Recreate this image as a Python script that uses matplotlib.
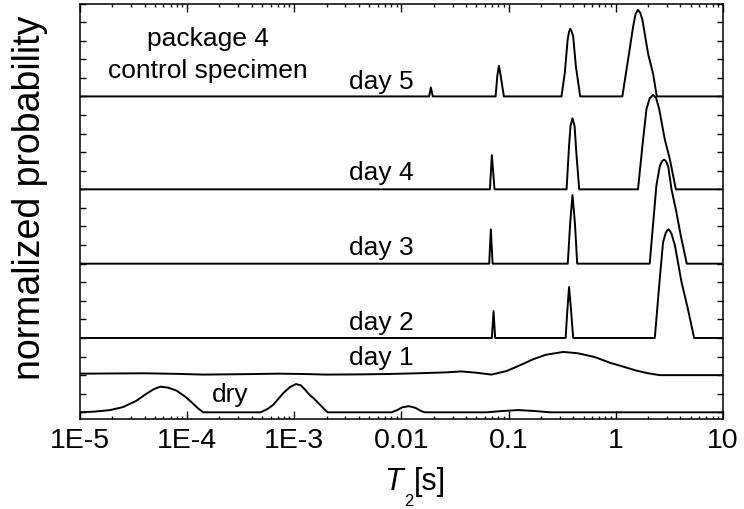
import matplotlib
matplotlib.use('Agg')
import matplotlib.pyplot as plt
from matplotlib.ticker import FixedLocator, LogLocator, NullFormatter

plt.rcParams['font.family'] = ['Liberation Sans', 'DejaVu Sans']

# T2 [s] and normalized probability, one pair of lists per measurement
dry_t2 = [1.0e-5, 1.38e-5, 1.91e-5, 2.51e-5, 3.31e-5, 4.17e-5, 4.90e-5, 5.62e-5,
          6.61e-5, 7.94e-5, 9.55e-5, 1.12e-4, 1.26e-4, 1.41e-4, 4.85e-4, 5.62e-4,
          6.35e-4, 7.08e-4, 7.94e-4, 9.12e-4, 1.035e-3, 1.15e-3, 1.26e-3, 1.38e-3,
          1.51e-3, 1.74e-3, 2.04e-3, 8.09e-3, 9.12e-3, 0.0102, 0.0117, 0.0135,
          0.0151, 0.0165, 0.0622, 0.0871, 0.123, 0.174, 0.242, 10.0]
dry_p = [0.0, 0.04, 0.12, 0.28, 0.6, 1.0, 1.25, 1.38,
         1.33, 1.17, 0.85, 0.5, 0.22, 0.0, 0.0, 0.18,
         0.40, 0.72, 1.05, 1.36, 1.52, 1.45, 1.22, 0.95,
         0.76, 0.4, 0.0, 0.0, 0.12, 0.27, 0.33, 0.24,
         0.08, 0.0, 0.0, 0.07, 0.12, 0.07, 0.0, 0.0]

day1_t2 = [1.0e-5, 2.0e-5, 3.98e-5, 7.94e-5, 1.41e-4, 3.16e-4, 7.08e-4, 1.26e-3,
           2.0e-3, 3.98e-3, 7.24e-3, 0.0141, 0.0263, 0.0363, 0.0501, 0.0692,
           0.0955, 0.126, 0.170, 0.224, 0.324, 0.437, 0.631, 0.879,
           1.20, 1.56, 2.0, 2.57, 10.0]
day1_p = [0.08, 0.09, 0.10, 0.07, 0.03, 0.05, 0.08, 0.06,
          0.03, 0.04, 0.06, 0.10, 0.15, 0.20, 0.13, 0.03,
          0.22, 0.52, 0.86, 1.10, 1.25, 1.18, 0.98, 0.67,
          0.44, 0.24, 0.10, 0.0, 0.0]

day2_t2 = [1.0e-5, 0.0697, 0.0723, 0.0748, 0.340, 0.353, 0.366, 0.382, 0.400,
           2.31, 2.57, 2.76, 2.92, 3.01, 3.10, 3.21, 3.31, 3.56, 4.10, 4.70,
           5.38, 10.0]
day2_p = [0.0, 0.0, 1.45, 0.0, 0.0, 1.5, 2.74, 1.5, 0.0,
          0.0, 3.19, 5.16, 5.65, 5.78, 5.84, 5.75, 5.6, 4.98, 3.01, 1.57,
          0.0, 0.0]

day3_t2 = [1.0e-5, 0.0658, 0.0682, 0.0708, 0.356, 0.375, 0.394, 0.415, 0.436,
           2.07, 2.39, 2.57, 2.69, 2.82, 2.95, 3.08, 3.31, 3.63, 4.04, 4.59,
           10.0]
day3_p = [0.0, 0.0, 1.84, 0.0, 0.0, 2.2, 3.69, 2.2, 0.0,
          0.0, 4.2, 5.24, 5.5, 5.60, 5.5, 5.24, 3.99, 2.92, 1.5, 0.0,
          0.0]

day4_t2 = [1.0e-5, 0.0668, 0.0697, 0.0738, 0.347, 0.366, 0.378, 0.394, 0.412,
           0.430, 0.455, 1.61, 1.77, 1.93, 2.07, 2.23, 2.38, 2.54, 2.86, 3.19,
           3.63, 10.0]
day4_p = [0.0, 0.0, 1.84, 0.0, 0.0, 2.34, 3.42, 3.82, 3.42,
          1.81, 0.0, 0.0, 2.34, 4.31, 4.9, 5.08, 4.9, 4.31, 2.70, 1.63,
          0.0, 0.0]

day5_t2 = [1.0e-5, 0.0181, 0.0188, 0.0196, 0.0755, 0.0783, 0.0811, 0.0843, 0.0902,
           0.311, 0.334, 0.355, 0.365, 0.375, 0.387, 0.400, 0.424, 0.465, 1.15,
           1.30, 1.45, 1.53, 1.61, 1.69, 1.77, 2.0, 2.23, 2.41, 10.0]
day5_p = [0.0, 0.0, 0.48, 0.0, 0.0, 1.1, 1.65, 1.1, 0.0,
          0.0, 1.26, 3.05, 3.45, 3.64, 3.5, 3.22, 1.61, 0.0, 0.0,
          1.97, 3.76, 4.45, 4.66, 4.5, 4.12, 2.3, 1.2, 0.0, 0.0]

curve_names = ['dry', 'day 1', 'day 2', 'day 3', 'day 4', 'day 5']
tick_vals = [1e-5, 1e-4, 1e-3, 0.01, 0.1, 1, 10]
tick_labels = ['1E-5', '1E-4', '1E-3', '0.01', '0.1', '1', '10']

fig = plt.figure(figsize=(7.44, 5.10), dpi=100)
ax = fig.add_axes([80 / 744, 1 - 420 / 510, 643 / 744, 415.5 / 510])

curves = [(dry_t2, dry_p), (day1_t2, day1_p), (day2_t2, day2_p),
          (day3_t2, day3_p), (day4_t2, day4_p), (day5_t2, day5_p)]
offsets = [0, 2, 4, 8, 12, 17]
for (t2, p), off in zip(curves, offsets):
    ax.plot(t2, [v + off for v in p], color='black', lw=1.4)

ax.set_xscale('log')
ax.set_xlim(1e-5, 10)
ax.set_ylim(-0.36, 22)

ax.xaxis.set_major_locator(FixedLocator(tick_vals))
ax.xaxis.set_minor_locator(LogLocator(base=10, subs=range(2, 10)))
ax.xaxis.set_minor_formatter(NullFormatter())
ax.set_xticklabels(tick_labels)
ax.set_yticks(range(0, 23))
ax.tick_params(axis='y', labelleft=False)
ax.tick_params(which='both', direction='in', top=True, right=True, width=1)
ax.tick_params(axis='x', which='major', length=5.5, pad=6, labelsize=20.5)
ax.tick_params(axis='x', which='minor', length=2.5)
ax.tick_params(axis='y', length=4)
for sp in ax.spines.values():
    sp.set_linewidth(1.1)

# curve labels
txt = dict(fontsize=19, va='baseline')
ax.text(0.01306, 17.43, 'day 5', ha='right', **txt)
ax.text(0.01306, 12.54, 'day 4', ha='right', **txt)
ax.text(0.01306, 8.51, 'day 3', ha='right', **txt)
ax.text(0.01306, 4.51, 'day 2', ha='right', **txt)
ax.text(0.01306, 2.6, 'day 1', ha='right', **txt)
ax.text(2.54e-4, 0.62, 'dry', ha='center', **txt)
ax.text(1.56e-4, 19.79, 'package 4', ha='center', **txt)
ax.text(1.56e-4, 18.05, 'control specimen', ha='center', **txt)

# axis titles
fig.text(30 / 744, 1 - 198 / 510, 'normalized probability', rotation=90,
         ha='center', va='center', fontsize=27)
fig.text(403 / 744, 1 - 490 / 510, 'T', style='italic', ha='right',
         va='baseline', fontsize=22)
fig.text(404 / 744, 1 - 506 / 510, '2', ha='left', va='baseline',
         fontsize=12)
fig.text(414 / 744, 1 - 490 / 510, '[s]', ha='left', va='baseline',
         fontsize=22)

fig.savefig('out.png', dpi=100)
